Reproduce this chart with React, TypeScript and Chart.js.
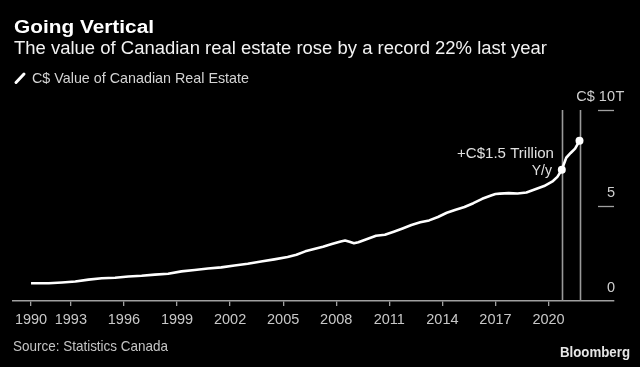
import React, { useEffect, useRef } from "react";
import { Chart, registerables } from "chart.js";

Chart.register(...registerables);

const TITLE = "Going Vertical";
const SUBTITLE = "The value of Canadian real estate rose by a record 22% last year";
const LEGEND_LABEL = "C$ Value of Canadian Real Estate";
const SOURCE = "Source: Statistics Canada";
const BRAND = "Bloomberg";
const ANNOTATION = ["+C$1.5 Trillion", "Y/y"];

const years = [
  1990.75, 1991.75, 1992.5, 1993.25, 1994, 1994.75, 1995.5, 1996.25, 1997, 1997.75,
  1998.5, 1999.25, 2000, 2000.75, 2001.5, 2002.25, 2003, 2003.75, 2004.5, 2005.25,
  2005.75, 2006.25, 2006.75, 2007.25, 2007.75, 2008.25, 2008.5, 2008.75, 2009.0, 2009.25,
  2009.75, 2010.25, 2010.75, 2011.25, 2011.75, 2012.25, 2012.75, 2013.25, 2013.75, 2014.25,
  2014.75, 2015.25, 2015.75, 2016.25, 2016.75, 2017.0, 2017.25, 2017.75, 2018.25, 2018.75,
  2019.25, 2019.75, 2020.25, 2020.5, 2020.75, 2021.0, 2021.25, 2021.5, 2021.75,
];
const values = [
  0.93, 0.93, 0.97, 1.02, 1.12, 1.19, 1.22, 1.28, 1.32, 1.38,
  1.43, 1.55, 1.62, 1.7, 1.76, 1.86, 1.95, 2.07, 2.18, 2.3,
  2.42, 2.6, 2.72, 2.84, 2.98, 3.12, 3.17, 3.1, 3.02, 3.08,
  3.25, 3.42, 3.47, 3.63, 3.8, 3.98, 4.12, 4.22, 4.4, 4.62,
  4.78, 4.92, 5.12, 5.35, 5.52, 5.6, 5.62, 5.65, 5.63, 5.68,
  5.85, 6.02, 6.28, 6.5, 6.87, 7.5, 7.75, 7.98, 8.39,
];
const markerYears = [2020.75, 2021.75];
const xTickValues = [1990.75, 1993, 1996, 1999, 2002, 2005, 2008, 2011, 2014, 2017, 2020];
const yTickValues = [0, 5, 10];
const X_MIN = 1989.73;
const X_MAX = 2023.7;

const FONT = '"Liberation Sans", Arial, sans-serif';

function fitText(
  ctx: CanvasRenderingContext2D,
  text: string,
  x: number,
  y: number,
  size: number,
  weight: string,
  color: string,
  width: number | null,
  align: "left" | "right" = "left"
) {
  ctx.save();
  ctx.font = `${weight} ${size}px ${FONT}`;
  ctx.fillStyle = color;
  ctx.textBaseline = "alphabetic";
  const w = ctx.measureText(text).width;
  const sx = width ? width / w : 1;
  ctx.translate(x, y);
  ctx.scale(sx, 1);
  ctx.textAlign = align;
  ctx.fillText(text, 0, 0);
  ctx.restore();
}

const overlayPlugin = {
  id: "overlay",
  beforeDatasetsDraw(chart: any) {
    const ctx = chart.ctx as CanvasRenderingContext2D;
    const xs = chart.scales.x;
    const ys = chart.scales.y;
    const area = chart.chartArea;
    ctx.save();
    ctx.strokeStyle = "#9a9a9a";
    ctx.lineWidth = 1.6;
    markerYears.forEach((yr) => {
      const px = Math.round(xs.getPixelForValue(yr)) + 0.5;
      ctx.beginPath();
      ctx.moveTo(px, area.top);
      ctx.lineTo(px, area.bottom);
      ctx.stroke();
    });
    // right axis tick marks
    ctx.strokeStyle = "#a0a0a0";
    ctx.lineWidth = 1.3;
    yTickValues.forEach((v) => {
      if (v === 0) return;
      const py = Math.round(ys.getPixelForValue(v)) + 0.5;
      ctx.beginPath();
      ctx.moveTo(area.right - 16, py);
      ctx.lineTo(area.right, py);
      ctx.stroke();
    });
    ctx.restore();
  },
  afterDraw(chart: any) {
    const ctx = chart.ctx as CanvasRenderingContext2D;
    const ys = chart.scales.y;
    const area = chart.chartArea;
    // titles
    fitText(ctx, TITLE, 14, 33, 18, "bold", "#ffffff", 140);
    fitText(ctx, SUBTITLE, 14, 53.5, 17.5, "normal", "#f2f2f2", 533);
    // legend
    ctx.save();
    ctx.strokeStyle = "#ffffff";
    ctx.lineWidth = 3;
    ctx.lineCap = "round";
    ctx.beginPath();
    ctx.moveTo(16, 82.5);
    ctx.lineTo(24, 74);
    ctx.stroke();
    ctx.restore();
    fitText(ctx, LEGEND_LABEL, 32, 83.3, 14.8, "normal", "#d4d4d4", 217);
    // y labels
    const rx = area.right + 1;
    yTickValues.forEach((v) => {
      const py = ys.getPixelForValue(v) - 9;
      if (v === 10) {
        fitText(ctx, "C$ " + v, rx, py, 14.5, "normal", "#cfcfcf", null, "right");
        fitText(ctx, "T", rx + 0.5, py, 14.5, "normal", "#cfcfcf", null, "left");
      } else {
        fitText(ctx, String(v), rx, py, 14.5, "normal", "#cfcfcf", null, "right");
      }
    });
    // annotation
    fitText(ctx, ANNOTATION[0], 554, 157.5, 14, "normal", "#e0e0e0", 97, "right");
    fitText(ctx, ANNOTATION[1], 552, 174.5, 14, "normal", "#e0e0e0", null, "right");
    // footer
    fitText(ctx, SOURCE, 13, 350.7, 15, "normal", "#c4c4c4", 155);
    fitText(ctx, BRAND, 560, 356.7, 14, "bold", "#e6e6e6", 70);
  },
};

export default function App() {
  const canvasRef = useRef<HTMLCanvasElement | null>(null);

  useEffect(() => {
    document.body.style.margin = "0";
    document.body.style.background = "#000";
    const canvas = canvasRef.current;
    if (!canvas) return;
    const data = years.map((yr, i) => ({ x: yr, y: values[i] }));
    const radii = years.map((yr) => (markerYears.includes(yr) ? 4 : 0));
    const chart = new Chart(canvas, {
      type: "line",
      data: {
        datasets: [
          {
            label: LEGEND_LABEL,
            data,
            borderColor: "#ffffff",
            borderWidth: 2.6,
            tension: 0,
            pointRadius: radii,
            pointBackgroundColor: "#ffffff",
            pointBorderColor: "#ffffff",
            pointBorderWidth: 0,
            borderJoinStyle: "round",
          },
        ],
      },
      options: {
        responsive: false,
        animation: false,
        layout: { padding: { left: 13, right: 26, top: 110, bottom: 36 } },
        plugins: { legend: { display: false }, title: { display: false }, tooltip: { enabled: false } },
        scales: {
          x: {
            type: "linear",
            min: X_MIN,
            max: X_MAX,
            afterBuildTicks: (scale: any) => {
              scale.ticks = xTickValues.map((v) => ({ value: v }));
            },
            afterFit: (scale: any) => {
              scale.height = 30;
            },
            ticks: {
              autoSkip: false,
              maxRotation: 0,
              color: "#c8c8c8",
              font: { family: FONT, size: 14.5 },
              padding: 5,
              callback: (v: any) => String(Math.floor(Number(v))),
            },
            grid: { drawOnChartArea: false, color: "#a0a0a0", tickLength: 5, lineWidth: 1.3 },
            border: { color: "#a0a0a0", width: 1.5 },
          },
          y: {
            display: false,
            min: 0,
            max: 10,
          },
        },
      },
      plugins: [overlayPlugin],
    });
    return () => chart.destroy();
  }, []);

  return (
    <div style={{ position: "fixed", left: 0, top: 0, width: 640, height: 367, background: "#000" }}>
      <canvas ref={canvasRef} width={640} height={367} style={{ display: "block" }} />
    </div>
  );
}
